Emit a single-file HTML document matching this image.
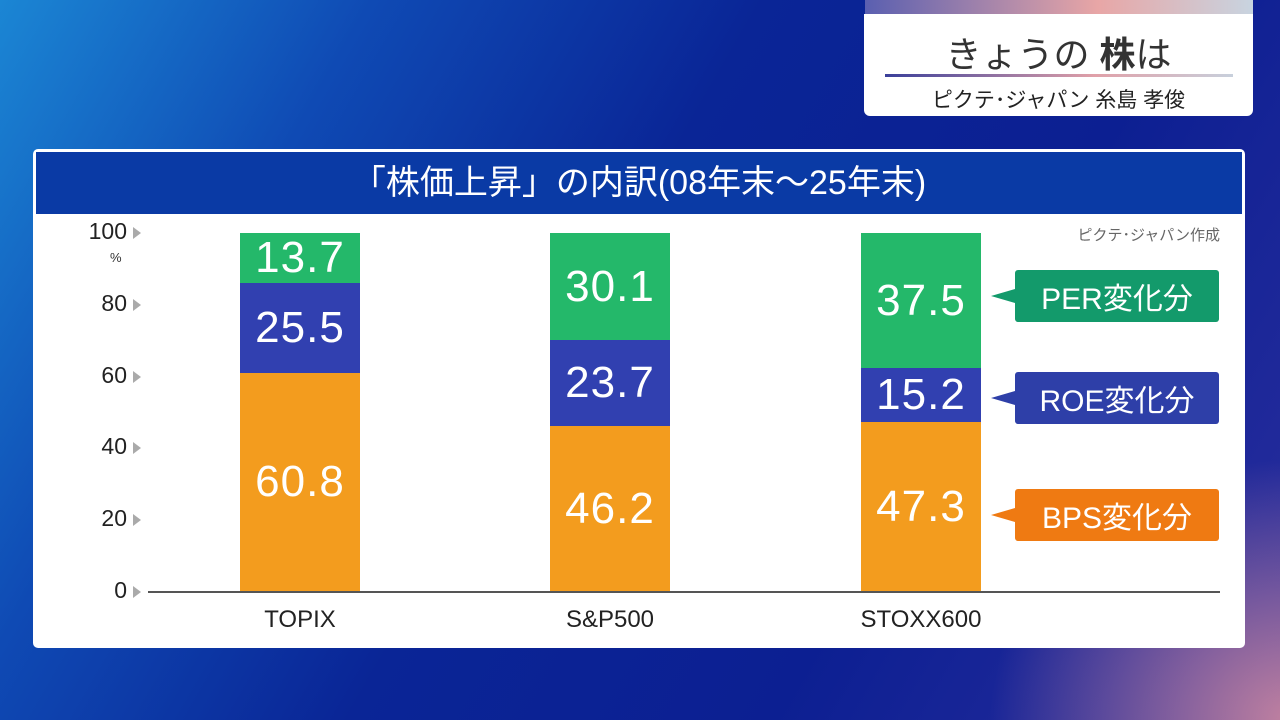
<!DOCTYPE html>
<html><head><meta charset="utf-8"><style>
body{margin:0;width:1280px;height:720px;overflow:hidden;position:relative;font-family:"Liberation Sans","Noto Sans CJK JP",sans-serif;
background:radial-gradient(ellipse 300px 260px at 1290px 720px,rgba(230,150,160,0.8),rgba(230,150,160,0) 100%),linear-gradient(120deg,#1b86d4 0%,#0f4ab4 22%,#0a2596 45%,#0c1f92 70%,#2a2e9e 100%);}
.abs{position:absolute}
.bar{position:absolute;width:120px;color:#fff;font-size:44px;display:flex;align-items:center;justify-content:center;letter-spacing:1px}
.g{background:#24b86a}.b{background:#3140b0}.o{background:#f39c1e}
.yl{position:absolute;right:1153px;font-size:23px;color:#222;width:80px;text-align:right}
.tri{position:absolute;left:133px;width:0;height:0;border-top:6px solid transparent;border-bottom:6px solid transparent;border-left:8px solid #aaa}
.lab{position:absolute;left:1015px;width:204px;height:52px;color:#fff;font-size:30px;display:flex;align-items:center;justify-content:center;border-radius:3px}
.ptr{position:absolute;left:991px;width:0;height:0;border-top:7px solid transparent;border-bottom:7px solid transparent;border-right:24px solid}
.xl{position:absolute;top:606px;font-size:24px;color:#222;width:200px;text-align:center}
</style></head><body>
<div class="abs" style="left:865px;top:0;width:388px;height:16px;background:linear-gradient(90deg,#5a5fb0,#e8a6a6 60%,#c8d4e0)"></div>
<div class="abs" style="left:864px;top:14px;width:389px;height:102px;background:#fff;border-radius:0 0 6px 6px"></div>
<div class="abs" style="left:864px;top:26px;width:389px;text-align:center;font-size:36px;color:#333">きょうの <b>株</b>は</div>
<div class="abs" style="left:885px;top:74px;width:348px;height:3px;background:linear-gradient(90deg,#3a3f9a,#e0a0a8 60%,#c8d0dc)"></div>
<div class="abs" style="left:864px;top:84px;width:389px;text-align:center;font-size:21px;color:#222">ピクテ･ジャパン 糸島 孝俊</div>

<div class="abs" style="left:33px;top:149px;width:1212px;height:499px;background:#fff;border-radius:5px"></div>
<div class="abs" style="left:36px;top:152px;width:1206px;height:62px;background:#0a3aa5;color:#fff;font-size:34px;text-align:center;line-height:62px">「株価上昇」の内訳(08年末～25年末)</div>
<div class="abs" style="left:1000px;top:224px;width:220px;text-align:right;font-size:15px;color:#666">ピクテ･ジャパン作成</div>

<div class="yl" style="top:218px">100</div><div class="abs" style="left:110px;top:250px;font-size:13px;color:#333">%</div>
<div class="yl" style="top:290px">80</div><div class="yl" style="top:362px">60</div><div class="yl" style="top:433px">40</div><div class="yl" style="top:505px">20</div><div class="yl" style="top:577px">0</div>
<div class="tri" style="top:227px"></div><div class="tri" style="top:299px"></div><div class="tri" style="top:371px"></div><div class="tri" style="top:442px"></div><div class="tri" style="top:514px"></div><div class="tri" style="top:586px"></div>
<div class="abs" style="left:148px;top:591px;width:1072px;height:2px;background:#555"></div>

<div class="bar g" style="left:240px;top:233px;height:50px">13.7</div>
<div class="bar b" style="left:240px;top:283px;height:90px">25.5</div>
<div class="bar o" style="left:240px;top:373px;height:218px">60.8</div>
<div class="bar g" style="left:550px;top:233px;height:107px">30.1</div>
<div class="bar b" style="left:550px;top:340px;height:86px">23.7</div>
<div class="bar o" style="left:550px;top:426px;height:165px">46.2</div>
<div class="bar g" style="left:861px;top:233px;height:135px">37.5</div>
<div class="bar b" style="left:861px;top:368px;height:54px">15.2</div>
<div class="bar o" style="left:861px;top:422px;height:169px">47.3</div>

<div class="xl" style="left:200px">TOPIX</div><div class="xl" style="left:510px">S&amp;P500</div><div class="xl" style="left:821px">STOXX600</div>

<div class="ptr" style="top:289px;border-right-color:#139a6b"></div><div class="lab" style="top:270px;background:#139a6b">PER変化分</div>
<div class="ptr" style="top:391px;border-right-color:#2e3fa8"></div><div class="lab" style="top:372px;background:#2e3fa8">ROE変化分</div>
<div class="ptr" style="top:508px;border-right-color:#ef7a12"></div><div class="lab" style="top:489px;background:#ef7a12">BPS変化分</div>
</body></html>
